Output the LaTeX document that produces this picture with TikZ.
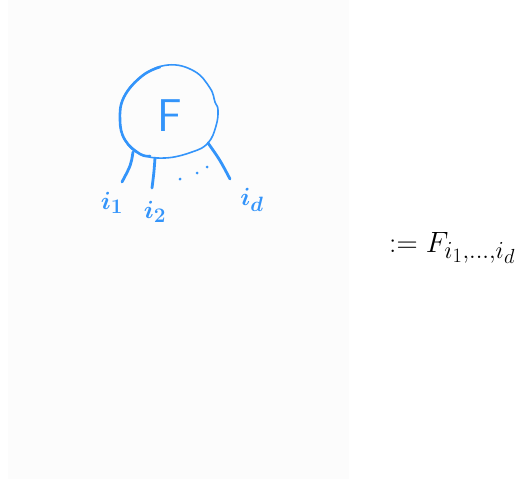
\documentclass[tikz,border=0pt]{standalone}
\usepackage{fontspec}
\usepackage{graphicx}
\begin{document}
\begin{tikzpicture}[x=1pt,y=-1pt,
  ink/.style={draw=inkblue,line cap=round,line join=round},
  leg/.style={ink,line width=2.8pt},
  dotmark/.style={circle,fill=inkblue,inner sep=0pt,minimum size=3pt},
  hand/.style={text=inkblue,inner sep=0pt,font=\sffamily}]
\definecolor{inkblue}{RGB}{51,148,250}
\definecolor{panel}{RGB}{252,252,252}
\useasboundingbox (0,0) rectangle (522,479);
\fill[white] (0,0) rectangle (522,479);
\fill[panel] (8,0) rectangle (349,479);
% tensor circle
\draw[ink,line width=1.6pt] plot[smooth cycle,tension=0.7] coordinates
  {(168,65) (194,71) (210,88) (215,102) (218,110) (216,126) (208,143) (192,152) (165,158) (140,154) (125,140) (120,120) (124,97) (142,76)};
\draw[ink,line width=2.6pt] plot[smooth,tension=0.7] coordinates
  {(150,156) (140,154) (125,140) (120,120) (124,97) (142,76) (160,67)};
\node[hand,font=\sffamily\fontsize{46}{46}\selectfont] (F) at (170,116) {F};
% legs
\coordinate (a1) at (133,152);
\coordinate (b1) at (122,182);
\coordinate (a2) at (155,158);
\coordinate (b2) at (152,188);
\coordinate (a3) at (208,143);
\coordinate (b3) at (230,179);
\draw[leg] (a1) .. controls (131,165) .. (b1);
\draw[leg] (a2) .. controls (154,172) .. (b2);
\draw[leg] (a3) .. controls (220,160) .. (b3);
% dots
\node[dotmark] (d1) at (180,179) {};
\node[dotmark] (d2) at (197,173) {};
\node[dotmark] (d3) at (207,167) {};
% labels
\node[hand,font=\boldmath\fontsize{24.88}{26}\selectfont] (l1) at (112,203) {$i_1$};
\node[hand,font=\boldmath\fontsize{24.88}{26}\selectfont] (l2) at (155,212) {$i_2$};
\node[hand,font=\boldmath\fontsize{24.88}{26}\selectfont] (l3) at (252,200) {$i_d$};
% formula
\node[anchor=west,inner sep=0pt,font=\fontsize{24.88}{26}\selectfont] (eq) at (389,248) {\scalebox{1.18}{$:= F_{i_1,\ldots,i_d}$}};
\end{tikzpicture}
\end{document}
